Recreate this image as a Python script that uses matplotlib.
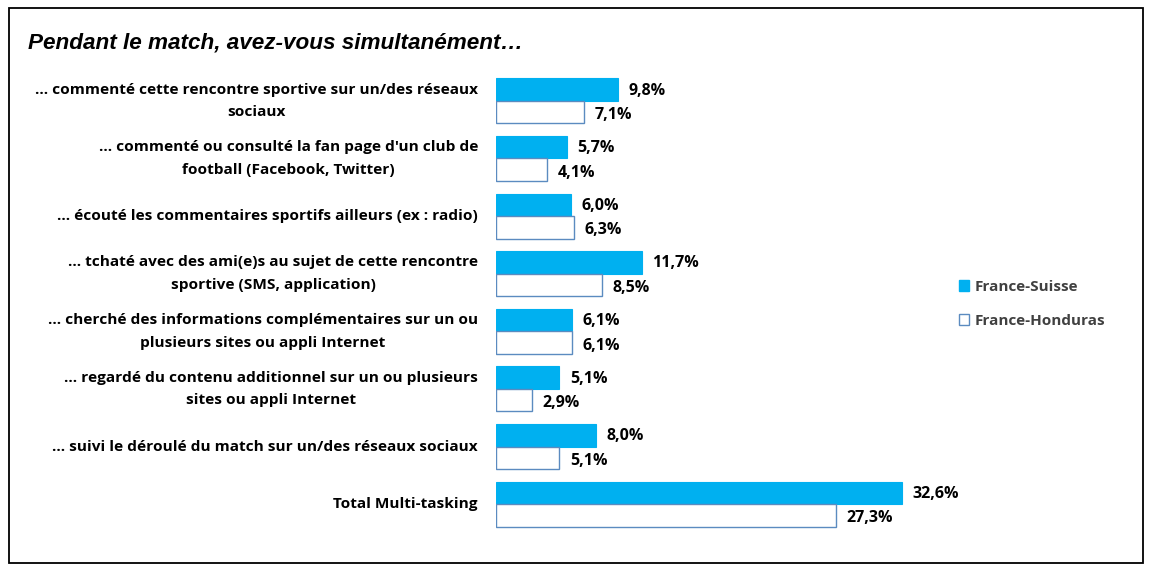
import matplotlib
matplotlib.use("Agg")
import matplotlib.pyplot as plt
from matplotlib.patches import Rectangle, Patch
import numpy as np

categories = [
    "... commenté cette rencontre sportive sur un/des réseaux\nsociaux",
    "... commenté ou consulté la fan page d'un club de\nfootball (Facebook, Twitter)",
    "... écouté les commentaires sportifs ailleurs (ex : radio)",
    "... tchaté avec des ami(e)s au sujet de cette rencontre\nsportive (SMS, application)",
    "... cherché des informations complémentaires sur un ou\nplusieurs sites ou appli Internet",
    "... regardé du contenu additionnel sur un ou plusieurs\nsites ou appli Internet",
    "... suivi le déroulé du match sur un/des réseaux sociaux",
    "Total Multi-tasking",
]
france_suisse = [9.8, 5.7, 6.0, 11.7, 6.1, 5.1, 8.0, 32.6]
france_honduras = [7.1, 4.1, 6.3, 8.5, 6.1, 2.9, 5.1, 27.3]
series_names = ["France-Suisse", "France-Honduras"]
title = "Pendant le match, avez-vous simultanément…"

W, H = 1150, 570
fig = plt.figure(figsize=(W / 100, H / 100), dpi=100)
fig.patch.set_facecolor("white")

# outer frame
fig.add_artist(Rectangle((9 / W, 1 - 563 / H), (1143 - 9) / W, (563 - 8) / H,
                         transform=fig.transFigure, fill=False, edgecolor="black",
                         linewidth=1.3))

fig.text(28 / W, 1 - 43 / H, title, fontsize=16.2, fontweight="bold",
         fontstyle="italic", family="Liberation Sans", va="center", ha="left")

ax_left, ax_right = 496, 1000
ax_top, ax_bottom = 72, 533
ax = fig.add_axes([ax_left / W, 1 - ax_bottom / H, (ax_right - ax_left) / W,
                   (ax_bottom - ax_top) / H])
px_per_unit = 12.45
ax.set_xlim(0, (ax_right - ax_left) / px_per_unit)
n = len(categories)
ax.set_ylim(n - 0.5, -0.5)
ax.axis("off")

y = np.arange(n)
h = 0.39
blue = "#00B0F0"
fontfam = ["Open Sans", "DejaVu Sans"]
ax.barh(y - h / 2, france_suisse, height=h, color=blue, edgecolor=blue, linewidth=0.8)
ax.barh(y + h / 2, france_honduras, height=h, color="white", edgecolor="#5B8BC0",
        linewidth=1.0)

for i in range(n):
    ax.annotate(f"{france_suisse[i]:.1f}%".replace(".", ","), (france_suisse[i], y[i] - h / 2),
                xytext=(7.5, -0.7), textcoords="offset points", va="center", ha="left",
                fontsize=11.5, fontweight="bold", family=fontfam, color="black")
    ax.annotate(f"{france_honduras[i]:.1f}%".replace(".", ","), (france_honduras[i], y[i] + h / 2),
                xytext=(7.5, -2.2), textcoords="offset points", va="center", ha="left",
                fontsize=11.5, fontweight="bold", family=fontfam, color="black")
    ax.annotate(categories[i], (0, y[i]), xytext=(-13, 0), textcoords="offset points",
                va="center", ha="right", multialignment="center", fontsize=11.1,
                fontweight="bold", family=fontfam, color="black", linespacing=1.78)

handles = [Patch(facecolor=blue, edgecolor=blue),
           Patch(facecolor="white", edgecolor="#5B8BC0")]
leg = fig.legend(handles, series_names, loc="center left",
                 bbox_to_anchor=(945 / W, 1 - 304 / H), frameon=False,
                 prop={"family": fontfam, "weight": "bold", "size": 11},
                 handlelength=0.7, handleheight=0.7, handletextpad=0.35,
                 labelspacing=1.3)
for t in leg.get_texts():
    t.set_color("#404040")

fig.savefig("out.png", dpi=100, facecolor="white")
